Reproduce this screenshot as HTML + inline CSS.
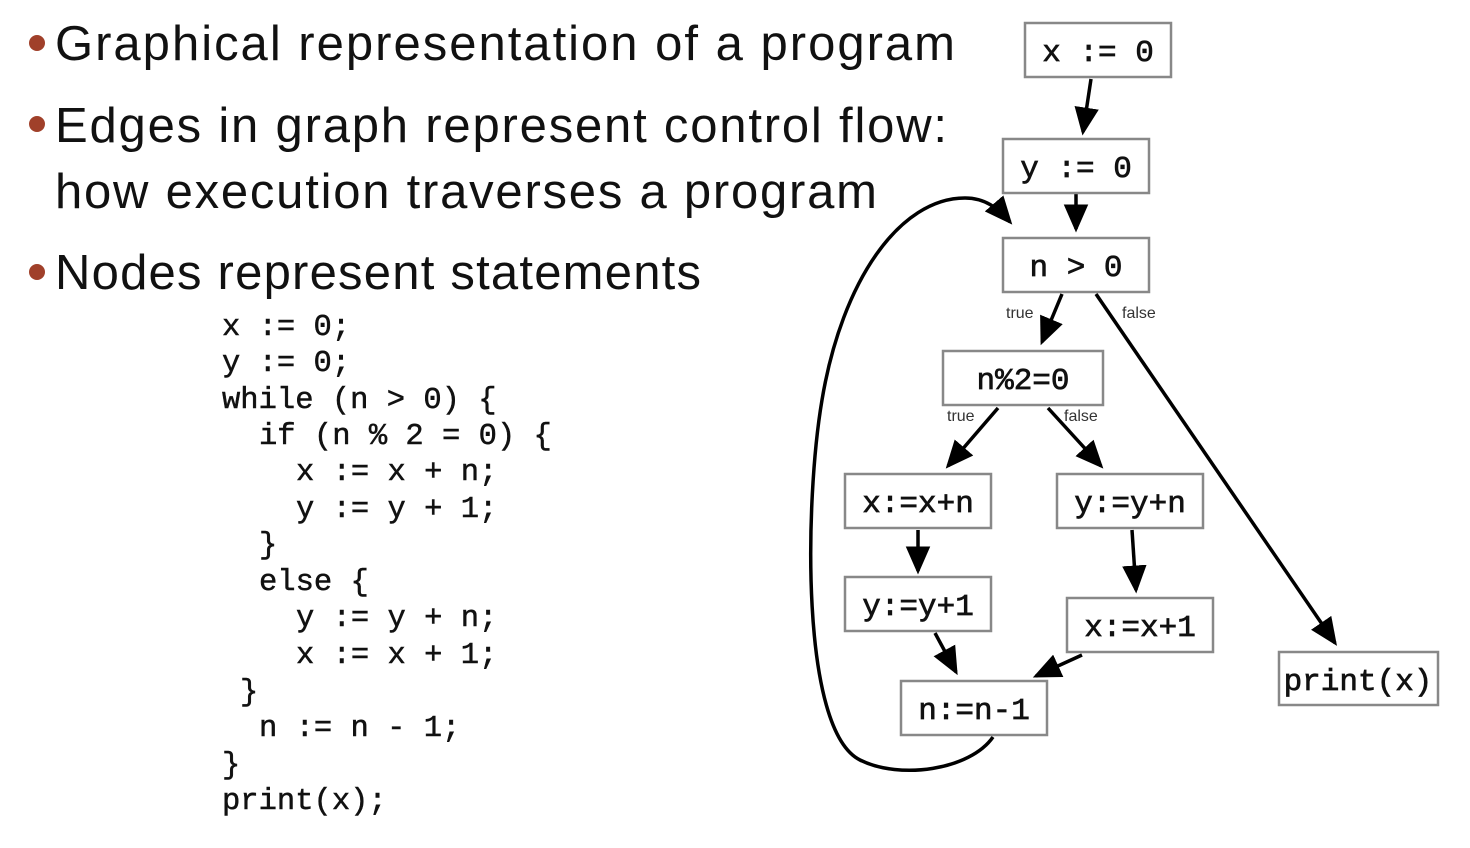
<!DOCTYPE html>
<html><head><meta charset="utf-8"><style>
html,body{margin:0;padding:0;background:#fff;width:1470px;height:848px;overflow:hidden}
svg{display:block}
.b{font-family:"Liberation Sans",sans-serif;font-size:49px;fill:#111}
.c{font-family:"Liberation Mono",monospace;font-size:30.5px;fill:#111;stroke:#111;stroke-width:0.5}
.n{font-family:"Liberation Mono",monospace;font-size:31px;fill:#111;stroke:#111;stroke-width:0.7;text-anchor:middle}
.l{font-family:"Liberation Sans",sans-serif;font-size:16px;fill:#333}
rect{fill:#fff;stroke:#888;stroke-width:2.5}
.e{stroke:#000;stroke-width:3.5;fill:none;marker-end:url(#a)}
</style></head><body>
<svg width="1470" height="848" viewBox="0 0 1470 848" xmlns="http://www.w3.org/2000/svg">
<defs><marker id="a" markerWidth="8" markerHeight="8" refX="7" refY="4" orient="auto" markerUnits="strokeWidth"><path d="M0,0.5 L8,4 L0,7.5 z" fill="#000"/></marker></defs>
<g fill="#a0402a"><circle cx="37" cy="43" r="8"/><circle cx="37" cy="124" r="8"/><circle cx="37" cy="272" r="8"/></g>
<text class="b" x="55" y="60" textLength="900">Graphical representation of a program</text>
<text class="b" x="55" y="142" textLength="892">Edges in graph represent control flow:</text>
<text class="b" x="55" y="208" textLength="822">how execution traverses a program</text>
<text class="b" x="55" y="289" textLength="646">Nodes represent statements</text>
<g class="c" xml:space="preserve">
<text x="222" y="335">x := 0;</text>
<text x="222" y="371">y := 0;</text>
<text x="222" y="408">while (n &gt; 0) {</text>
<text x="259" y="444">if (n % 2 = 0) {</text>
<text x="296" y="480">x := x + n;</text>
<text x="296" y="517">y := y + 1;</text>
<text x="259" y="553">}</text>
<text x="259" y="590">else {</text>
<text x="296" y="626">y := y + n;</text>
<text x="296" y="663">x := x + 1;</text>
<text x="240" y="700">}</text>
<text x="259" y="736">n := n - 1;</text>
<text x="222" y="773">}</text>
<text x="222" y="809">print(x);</text>
</g>
<path class="e" d="M993,737 C970,770 900,780 860,760 C800,730 805,500 822,400 C842,280 900,198 965,198 C985,198 998,208 1010,222"/>
<path class="e" d="M1091,79 L1083,132"/>
<path class="e" d="M1076,194 L1076,229"/>
<path class="e" d="M1062,294 L1042,342"/>
<path class="e" d="M1096,294 L1335,643"/>
<path class="e" d="M998,408 L948,466"/>
<path class="e" d="M1048,408 L1101,466"/>
<path class="e" d="M918,530 L918,571"/>
<path class="e" d="M1132,530 L1136,590"/>
<path class="e" d="M935,633 L956,672"/>
<path class="e" d="M1082,655 L1036,676"/>
<text class="l" x="1006" y="318">true</text>
<text class="l" x="1122" y="318">false</text>
<text class="l" x="947" y="421">true</text>
<text class="l" x="1064" y="421">false</text>
<rect x="1025" y="23" width="146" height="54"/><text class="n" x="1098" y="61" xml:space="preserve">x := 0</text>
<rect x="1003" y="139" width="146" height="54"/><text class="n" x="1076" y="177" xml:space="preserve">y := 0</text>
<rect x="1003" y="238" width="146" height="54"/><text class="n" x="1076" y="276" xml:space="preserve">n &gt; 0</text>
<rect x="943" y="351" width="160" height="54"/><text class="n" x="1023" y="389">n%2=0</text>
<rect x="845" y="474" width="146" height="54"/><text class="n" x="918" y="512">x:=x+n</text>
<rect x="1057" y="474" width="146" height="54"/><text class="n" x="1130" y="512">y:=y+n</text>
<rect x="845" y="577" width="146" height="54"/><text class="n" x="918" y="615">y:=y+1</text>
<rect x="1067" y="598" width="146" height="54"/><text class="n" x="1140" y="636">x:=x+1</text>
<rect x="901" y="681" width="146" height="54"/><text class="n" x="974" y="719">n:=n-1</text>
<rect x="1279" y="652" width="159" height="53"/><text class="n" x="1358" y="690">print(x)</text>
</svg>
</body></html>
